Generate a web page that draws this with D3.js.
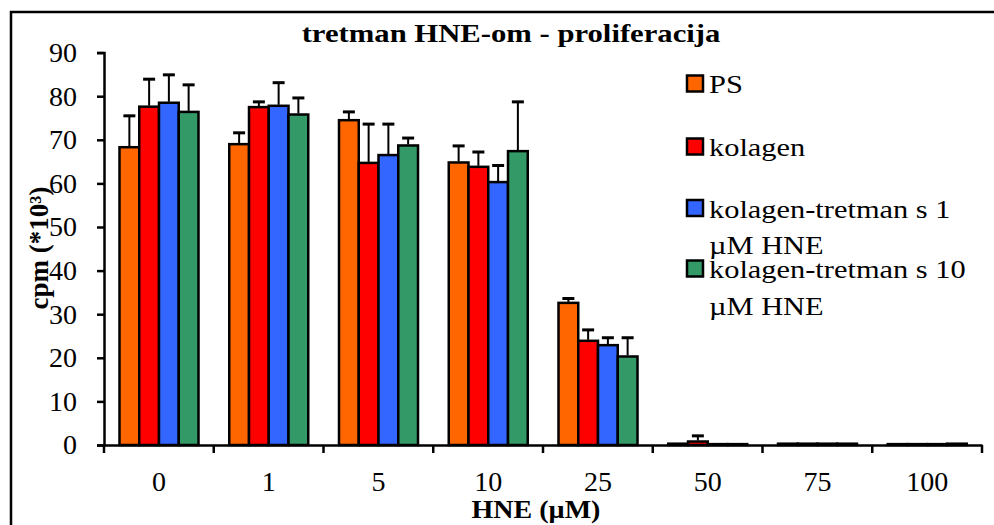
<!DOCTYPE html>
<html>
<head>
<meta charset="utf-8">
<script src="https://cdn.jsdelivr.net/npm/d3@7"></script>
<style>
  body { margin: 0; background: #fff; }
  text { font-family: "Liberation Serif", "Times New Roman", Times, serif; }
</style>
</head>
<body>
<div id="chart"></div>
<script>
// data (cpm * 10^3)
const categories = ["0", "1", "5", "10", "25", "50", "75", "100"];
const seriesNames = ["PS", "kolagen", "kolagen-tretman s 1 µM HNE", "kolagen-tretman s 10 µM HNE"];
const legendLines = [["PS"], ["kolagen"], ["kolagen-tretman s 1", "µM HNE"], ["kolagen-tretman s 10", "µM HNE"]];
const psVals      = [68.3, 69.0, 74.5, 64.8, 32.6, 0.3, 0.3, 0.2];
const psErr       = [7.2, 2.6, 1.9, 3.8, 1.0, 0, 0, 0];
const kolVals     = [77.6, 77.5, 64.7, 63.8, 23.9, 0.8, 0.3, 0.2];
const kolErr      = [6.3, 1.2, 8.9, 3.4, 2.5, 1.3, 0, 0];
const kol1Vals    = [78.5, 77.8, 66.5, 60.3, 22.9, 0.2, 0.3, 0.2];
const kol1Err     = [6.4, 5.3, 7.1, 3.8, 1.7, 0, 0, 0];
const kol10Vals   = [76.4, 75.8, 68.7, 67.4, 20.3, 0.2, 0.3, 0.3];
const kol10Err    = [6.2, 3.8, 1.7, 11.3, 4.3, 0, 0, 0];
const yTicks = [0, 10, 20, 30, 40, 50, 60, 70, 80, 90];

const colors = ["#ff6600", "#ff0000", "#3366ff", "#339966"];
const allVals = [psVals, kolVals, kol1Vals, kol10Vals];
const allErr = [psErr, kolErr, kol1Err, kol10Err];

const width = 994, height = 525;
const svg = d3.select("#chart").append("svg")
  .attr("width", width)
  .attr("height", height);

svg.append("rect").attr("width", width).attr("height", height).attr("fill", "#fff");

// frame (only left and top edges show)
svg.append("path")
  .attr("d", "M11,525 L11,12 L994,12")
  .attr("fill", "none")
  .attr("stroke", "#000")
  .attr("stroke-width", 2.5);

const plot = { left: 104, right: 982, top: 52.6, bottom: 445 };

const x = d3.scaleBand().domain(categories).range([plot.left, plot.right]).padding(0);
const xs = d3.scaleBand().domain(d3.range(4)).range([15.5, 94.5]).padding(0);
const y = d3.scaleLinear().domain([0, 90]).range([plot.bottom, plot.top]);

// helper: horizontally stretched text like the original
function stext(g, px, py, str, sx, anchor) {
  return g.append("text")
    .attr("transform", `translate(${px},${py}) scale(${sx},1)`)
    .attr("text-anchor", anchor || "start")
    .text(str);
}

// bars
const rows = [];
categories.forEach((c, i) => {
  for (let s = 0; s < 4; s++) {
    rows.push({ cat: c, s: s, v: allVals[s][i], e: allErr[s][i] });
  }
});

svg.append("g").selectAll("rect")
  .data(rows)
  .join("rect")
  .attr("x", d => x(d.cat) + xs(d.s))
  .attr("y", d => y(d.v))
  .attr("width", xs.bandwidth())
  .attr("height", d => y(0) - y(d.v))
  .attr("fill", d => colors[d.s])
  .attr("stroke", "#000")
  .attr("stroke-width", 2.5);

// error bars (upper only)
const errG = svg.append("g");
rows.filter(d => d.e > 0).forEach(d => {
  const cx = x(d.cat) + xs(d.s) + xs.bandwidth() / 2;
  errG.append("line")
    .attr("x1", cx).attr("x2", cx)
    .attr("y1", y(d.v) - 1).attr("y2", y(d.v + d.e))
    .attr("stroke", "#000").attr("stroke-width", 2);
  errG.append("line")
    .attr("x1", cx - 6).attr("x2", cx + 6)
    .attr("y1", y(d.v + d.e)).attr("y2", y(d.v + d.e))
    .attr("stroke", "#000").attr("stroke-width", 3);
});

// y axis
const yAxis = svg.append("g")
  .attr("transform", `translate(${plot.left},0)`)
  .call(d3.axisLeft(y).tickValues(yTicks).tickSize(7).tickPadding(20));
yAxis.select(".domain").attr("stroke-width", 2.5);
yAxis.selectAll(".tick line").attr("stroke-width", 2.5);
yAxis.selectAll(".tick text")
  .attr("font-size", 28)
  .attr("fill", "#000");

// x axis: labels centred, tick marks between groups
const xAxis = svg.append("g")
  .attr("transform", `translate(0,${plot.bottom})`)
  .call(d3.axisBottom(x).tickSize(0).tickSizeOuter(0).tickPadding(26));
xAxis.select(".domain").attr("stroke-width", 2.5);
xAxis.selectAll(".tick text")
  .attr("font-size", 28)
  .attr("fill", "#000");

svg.append("g").selectAll("line")
  .data(categories.map(c => x(c)).concat([plot.right]))
  .join("line")
  .attr("x1", d => d).attr("x2", d => d)
  .attr("y1", plot.bottom).attr("y2", plot.bottom + 8)
  .attr("stroke", "#000")
  .attr("stroke-width", 2.5);

// title
stext(svg, 511, 41.5, "tretman HNE-om - proliferacija", 1.18, "middle")
  .attr("font-size", 26)
  .attr("font-weight", "bold");

// x axis title
stext(svg, 536, 518, "HNE (µM)", 1.12, "middle")
  .attr("font-size", 25)
  .attr("font-weight", "bold");

// y axis title
svg.append("text")
  .attr("transform", "translate(48,248) rotate(-90)")
  .attr("text-anchor", "middle")
  .attr("font-size", 27)
  .attr("font-weight", "bold")
  .text("cpm (*10³)");

// legend
const legendY = [83.5, 146.5, 208, 268.5];
const legend = svg.append("g");
legendLines.forEach((lines, i) => {
  legend.append("rect")
    .attr("x", 687).attr("y", legendY[i] - 8)
    .attr("width", 16).attr("height", 16)
    .attr("fill", colors[i])
    .attr("stroke", "#000")
    .attr("stroke-width", 2.5);
  lines.forEach((ln, j) => {
    stext(legend, 709, legendY[i] + 9.5 + j * 36.5, ln, 1.17)
      .attr("font-size", 26);
  });
});
</script>
</body>
</html>
